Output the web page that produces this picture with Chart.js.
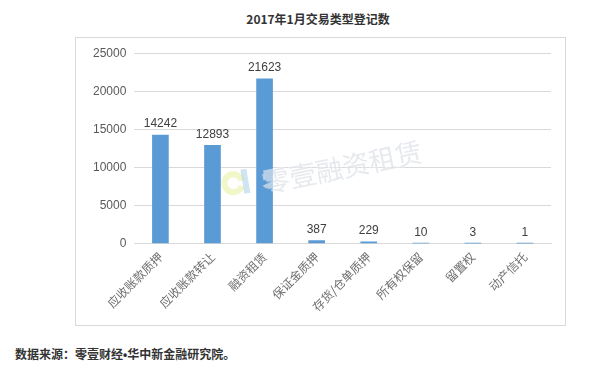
<!DOCTYPE html>
<html>
<head>
<meta charset="utf-8">
<script src="https://cdn.jsdelivr.net/npm/chart.js@4/dist/chart.umd.min.js"></script>
<style>
  body { margin: 0; background: #fff; width: 596px; height: 370px; position: relative; overflow: hidden; }
  #title { position: absolute; left: 0; width: 636px; top: 10px; text-align: center;
    font: bold 12px "Noto Sans CJK SC", sans-serif; color: #333; }
  #box { position: absolute; left: 75px; top: 37px; width: 489px; height: 287px; border: 1px solid #d9d9d9; }
  #source { position: absolute; left: 15px; top: 345px; font: bold 12px "Noto Sans CJK SC", sans-serif; color: #333; }
  #source .dot { font-family: "Liberation Sans", sans-serif; }
</style>
</head>
<body>
<div id="title">2017年1月交易类型登记数</div>
<div id="box"><canvas id="chart" width="489" height="287"></canvas></div>
<div id="source">数据来源：零壹财经<span class="dot">•</span>华中新金融研究院。</div>
<script>
var categories = ["应收账款质押", "应收账款转让", "融资租赁", "保证金质押", "存货/仓单质押", "所有权保留", "留置权", "动产信托"];
var counts = [14242, 12893, 21623, 387, 229, 10, 3, 1];
var yTicks = [0, 5000, 10000, 15000, 20000, 25000];

// value labels above bars
var valueLabels = {
    id: 'valueLabels',
    afterDatasetsDraw: function (chart) {
        var ctx = chart.ctx;
        var meta = chart.getDatasetMeta(0);
        ctx.save();
        ctx.font = '12px "Liberation Sans", sans-serif';
        ctx.fillStyle = '#404040';
        ctx.textAlign = 'center';
        ctx.textBaseline = 'bottom';
        meta.data.forEach(function (bar, i) {
            ctx.fillText(String(counts[i]), bar.x, bar.y - 5);
        });
        ctx.restore();
    }
};

// faint watermark, drawn over the bars
var watermark = {
    id: 'watermark',
    afterDatasetsDraw: function (chart) {
        var ctx = chart.ctx;
        var a = chart.chartArea;
        ctx.save();
        // logo
        ctx.lineWidth = 6;
        ctx.strokeStyle = 'rgba(230, 240, 150, 0.5)';
        ctx.beginPath();
        ctx.arc(a.left + 99, a.top + 130, 9, 0.3, Math.PI * 2 - 0.3);
        ctx.stroke();
        ctx.strokeStyle = 'rgba(170, 205, 230, 0.55)';
        ctx.beginPath();
        ctx.moveTo(a.left + 113, a.top + 140);
        ctx.lineTo(a.left + 109, a.top + 116);
        ctx.stroke();
        // text
        ctx.translate(a.left + 208, a.top + 114);
        ctx.rotate(-0.2);
        ctx.font = '27px "Noto Sans CJK SC", sans-serif';
        ctx.textAlign = 'center';
        ctx.textBaseline = 'middle';
        ctx.lineWidth = 2;
        ctx.strokeStyle = 'rgba(255, 255, 255, 0.5)';
        ctx.strokeText('零壹融资租赁', 0, 0);
        ctx.fillStyle = 'rgba(205, 212, 220, 0.5)';
        ctx.fillText('零壹融资租赁', 0, 0);
        ctx.restore();
    }
};

var ctx = document.getElementById('chart').getContext('2d');
var myChart = new Chart(ctx, {
    type: 'bar',
    data: {
        labels: categories,
        datasets: [{
            data: counts,
            backgroundColor: '#5B9BD5',
            barThickness: 16
        }]
    },
    options: {
        responsive: false,
        animation: { duration: 0 },
        layout: { padding: { left: 9, right: 14, top: 3, bottom: 5 } },
        plugins: { legend: { display: false }, tooltip: { enabled: false } },
        scales: {
            x: {
                grid: { display: false, drawTicks: false },
                border: { color: '#d9d9d9' },
                ticks: {
                    minRotation: 45, maxRotation: 45, padding: 6,
                    color: '#6f6f6f',
                    font: { family: '"Noto Sans CJK SC", serif', size: 12 }
                }
            },
            y: {
                min: 0, max: 25000,
                afterBuildTicks: function (axis) {
                    axis.ticks = yTicks.map(function (v) { return { value: v }; });
                },
                grid: { color: '#d9d9d9', drawTicks: false },
                border: { display: false },
                ticks: {
                    padding: 8,
                    color: '#595959',
                    font: { family: '"Liberation Sans", sans-serif', size: 12 },
                    callback: function (v) { return String(v); }
                }
            }
        }
    },
    plugins: [valueLabels, watermark]
});
</script>
</body>
</html>
